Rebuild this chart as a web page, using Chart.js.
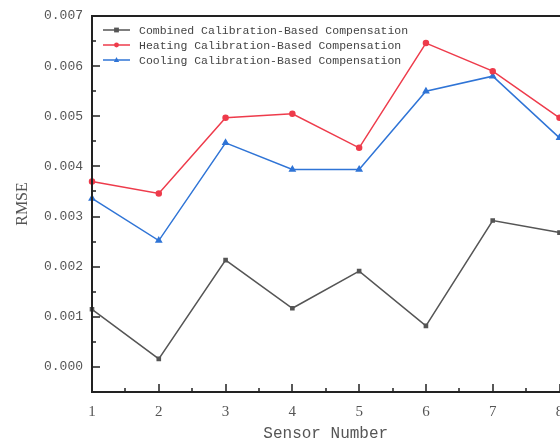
<!DOCTYPE html>
<html><head><meta charset="utf-8">
<script src="https://cdn.jsdelivr.net/npm/chart.js@4.4.0/dist/chart.umd.min.js"></script>
<style>html,body{margin:0;padding:0;background:#fff;overflow:hidden;}#wrap{width:560px;height:443px;overflow:hidden;}</style>
</head><body><div id="wrap"><canvas id="c" width="565" height="443"></canvas></div>
<script>
const sensors = [1, 2, 3, 4, 5, 6, 7, 8];
const combined = [0.00115, 0.00016, 0.00213, 0.00117, 0.00191, 0.00082, 0.00292, 0.00268];
const heating  = [0.00370, 0.00346, 0.00497, 0.00505, 0.00437, 0.00646, 0.00590, 0.00497];
const cooling  = [0.00336, 0.00252, 0.00447, 0.00394, 0.00394, 0.00550, 0.00580, 0.00457];
const seriesNames = ['Combined Calibration-Based Compensation','Heating Calibration-Based Compensation','Cooling Calibration-Based Compensation'];
const yTicks = [0, 0.001, 0.002, 0.003, 0.004, 0.005, 0.006, 0.007];
const xTicks = [1, 2, 3, 4, 5, 6, 7, 8];

const colors = ['#555555', '#ee3b4b', '#2f74d6'];
const shapes = ['rect', 'circle', 'triangle'];
const toPts = arr => arr.map((v, i) => ({x: sensors[i], y: v}));

function drawMarker(ctx, shape, x, y, r, color) {
  ctx.fillStyle = color;
  ctx.beginPath();
  if (shape === 'rect') { ctx.rect(x - r, y - r, 2*r, 2*r); }
  else if (shape === 'circle') { ctx.arc(x, y, r, 0, Math.PI*2); }
  else { ctx.moveTo(x, y - r*1.2); ctx.lineTo(x + r*1.1, y + r*0.8); ctx.lineTo(x - r*1.1, y + r*0.8); ctx.closePath(); }
  ctx.fill();
}

const framePlugin = {
  id: 'frame',
  afterDraw(chart) {
    const {ctx, chartArea: a, scales} = chart;
    const xs = scales.x, ys = scales.y;
    ctx.save();
    ctx.strokeStyle = '#222';
    ctx.lineWidth = 2;
    ctx.beginPath();
    ctx.moveTo(a.right + 2, a.top); ctx.lineTo(a.left, a.top); ctx.lineTo(a.left, a.bottom); ctx.lineTo(a.right + 2, a.bottom);
    ctx.stroke();
    ctx.lineWidth = 1.5;
    ctx.beginPath();
    for (let v = 1; v <= 8; v += 0.5) {
      const px = Math.round(xs.getPixelForValue(v));
      const len = Number.isInteger(v) ? 8 : 4;
      ctx.moveTo(px, a.bottom); ctx.lineTo(px, a.bottom - len);
    }
    for (let v = -0.0005; v <= 0.00701; v += 0.0005) {
      const vv = Math.round(v * 10000) / 10000;
      const py = Math.round(ys.getPixelForValue(vv));
      const major = Math.abs(vv * 1000 - Math.round(vv * 1000)) < 1e-6;
      const len = major ? 8 : 4;
      ctx.moveTo(a.left, py); ctx.lineTo(a.left + len, py);
    }
    ctx.stroke();
    ctx.font = '11.5px "Liberation Mono", monospace';
    ctx.textBaseline = 'middle';
    ctx.textAlign = 'left';
    for (let i = 0; i < 3; i++) {
      const y = a.top + 14 + i * 15;
      const x0 = a.left + 11;
      ctx.strokeStyle = colors[i];
      ctx.lineWidth = 1.5;
      ctx.beginPath(); ctx.moveTo(x0, y); ctx.lineTo(x0 + 27, y); ctx.stroke();
      drawMarker(ctx, shapes[i], x0 + 13.5, y, 2.4, colors[i]);
      ctx.fillStyle = '#444';
      ctx.fillText(seriesNames[i], a.left + 47, y + 1);
    }
    ctx.restore();
  }
};

new Chart(document.getElementById('c'), {
  type: 'line',
  data: {
    datasets: [
      {label: seriesNames[0], data: toPts(combined), borderColor: colors[0], backgroundColor: colors[0], pointStyle: 'rect', pointRadius: 2.2, borderWidth: 1.5},
      {label: seriesNames[1], data: toPts(heating), borderColor: colors[1], backgroundColor: colors[1], pointStyle: 'circle', pointRadius: 2.5, borderWidth: 1.5},
      {label: seriesNames[2], data: toPts(cooling), borderColor: colors[2], backgroundColor: colors[2], pointStyle: 'triangle', pointRadius: 3, borderWidth: 1.5}
    ]
  },
  options: {
    responsive: false,
    animation: false,
    clip: false,
    layout: {padding: {top: 16, right: 0, left: 13, bottom: 0}},
    plugins: {legend: {display: false}, tooltip: {enabled: false}},
    scales: {
      x: {
        type: 'linear', min: 1, max: 8,
        afterBuildTicks: s => { s.ticks = xTicks.map(v => ({value: v})); },
        afterFit: s => { s.height = 51; s.paddingRight = 0; s.paddingLeft = 0; },
        grid: {display: false, drawTicks: false},
        border: {display: false},
        ticks: {padding: 11, color: '#555', font: {family: '"Liberation Serif", serif', size: 15}, callback: v => String(v), maxRotation: 0},
        title: {display: true, text: 'Sensor Number', color: '#555', font: {family: '"Liberation Mono", monospace', size: 16}, padding: {top: 2, bottom: 0}}
      },
      y: {
        min: -0.0005, max: 0.007,
        afterBuildTicks: s => { s.ticks = yTicks.map(v => ({value: v})); },
        afterFit: s => { s.width = 79; s.paddingTop = 0; s.paddingBottom = 0; },
        grid: {display: false, drawTicks: false},
        border: {display: false},
        ticks: {padding: 9, color: '#555', font: {family: '"Liberation Mono", monospace', size: 13}, callback: v => v.toFixed(3)},
        title: {display: true, text: 'RMSE', color: '#555', font: {family: '"Liberation Serif", serif', size: 16}, padding: {top: 0, bottom: 0}}
      }
    }
  },
  plugins: [framePlugin]
});
</script>
</body></html>
